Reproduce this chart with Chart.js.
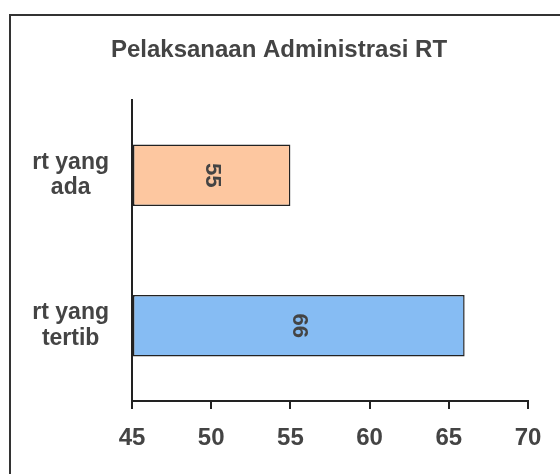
<!DOCTYPE html>
<html>
<head>
<meta charset="utf-8">
<script src="https://cdn.jsdelivr.net/npm/chart.js@4/dist/chart.umd.min.js"></script>
<style>
  html, body { margin: 0; padding: 0; background: #fff; }
  #wrap { position: relative; width: 560px; height: 474px; }
</style>
</head>
<body>
<div id="wrap"><canvas id="rtChart" width="560" height="474"></canvas></div>
<script>
const chartTitle = "Pelaksanaan Administrasi RT";
const categories = [["rt yang", "ada"], ["rt yang", "tertib"]];
const values = [55, 66];
const barColors = ["#FDC7A0", "#86BCF3"];
const axisMin = 45;
const axisMax = 70;
const axisStep = 5;

const textColor = "#444";
const lineColor = "#222";
const fontFamily = "'Liberation Sans', Arial, sans-serif";

// outer frame of the original picture (runs off the right/bottom edge)
// plus the title, centred on the whole picture like in the original
const framePlugin = {
  id: "frame",
  beforeDraw(chart) {
    const ctx = chart.ctx;
    ctx.save();
    ctx.strokeStyle = "#333";
    ctx.lineWidth = 2;
    ctx.strokeRect(10, 15, 620, 520);
    ctx.fillStyle = textColor;
    ctx.font = "bold 24px " + fontFamily;
    ctx.textAlign = "center";
    ctx.textBaseline = "middle";
    ctx.fillText(chartTitle, 279, 50);
    ctx.restore();
  }
};

// values written inside the bars, turned on their side
const valueLabels = {
  id: "valueLabels",
  afterDatasetsDraw(chart) {
    const ctx = chart.ctx;
    const meta = chart.getDatasetMeta(0);
    ctx.save();
    ctx.fillStyle = textColor;
    ctx.font = "bold 22px " + fontFamily;
    ctx.textAlign = "center";
    ctx.textBaseline = "middle";
    meta.data.forEach((bar, i) => {
      const cx = (bar.x + bar.base) / 2;
      ctx.save();
      ctx.translate(cx, bar.y);
      ctx.rotate(Math.PI / 2);
      ctx.fillText(String(values[i]), 0, 0);
      ctx.restore();
    });
    ctx.restore();
  }
};

const ctx = document.getElementById("rtChart").getContext("2d");
new Chart(ctx, {
  type: "bar",
  data: {
    labels: categories,
    datasets: [{
      data: values,
      base: axisMin,
      backgroundColor: barColors,
      borderColor: lineColor,
      borderWidth: 1.5,
      borderSkipped: false,
      categoryPercentage: 1,
      barPercentage: 0.41
    }]
  },
  options: {
    indexAxis: "y",
    responsive: false,
    animation: false,
    layout: { padding: { top: 100, right: 32, bottom: 0, left: 0 } },
    plugins: {
      legend: { display: false },
      tooltip: { enabled: false },
      title: { display: false }
    },
    scales: {
      x: {
        min: axisMin,
        max: axisMax,
        ticks: {
          stepSize: axisStep,
          color: textColor,
          padding: 15,
          maxRotation: 0,
          font: { family: fontFamily, size: 24, weight: "bold" }
        },
        grid: { drawOnChartArea: false, drawTicks: true, tickLength: 8, color: lineColor, lineWidth: 2 },
        border: { display: true, color: lineColor, width: 2 },
        afterFit(scale) { scale.height = 73; }
      },
      y: {
        ticks: {
          color: textColor,
          crossAlign: "center",
          padding: 15,
          font: { family: fontFamily, size: 23, weight: "bold", lineHeight: 1.1 }
        },
        grid: { display: false },
        border: { display: true, color: lineColor, width: 2 },
        afterFit(scale) { scale.width = 132; }
      }
    }
  },
  plugins: [framePlugin, valueLabels]
});
</script>
</body>
</html>
